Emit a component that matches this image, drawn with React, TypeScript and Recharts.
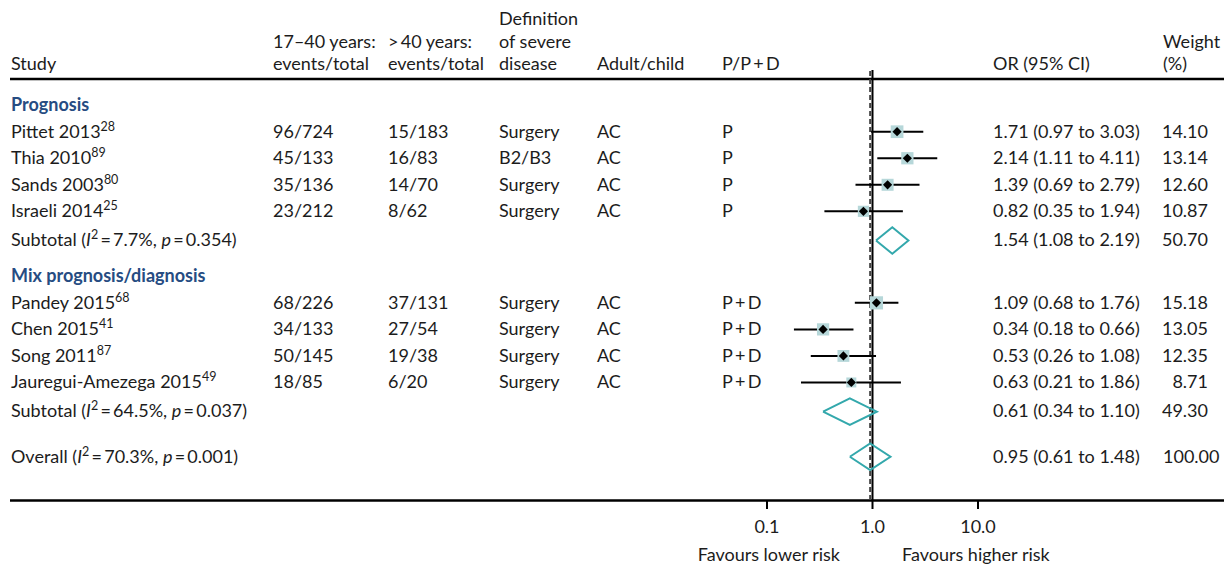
import React from "react";
import { ComposedChart, Scatter, XAxis, YAxis, ErrorBar, ReferenceLine, Customized } from "recharts";

// study-level data
const groupNames = ["Prognosis", "Mix prognosis/diagnosis"];
const studyGroup = [0, 0, 0, 0, 1, 1, 1, 1];
const studyNames = ["Pittet 2013", "Thia 2010", "Sands 2003", "Israeli 2014", "Pandey 2015", "Chen 2015", "Song 2011", "Jauregui-Amezega 2015"];
const studyRefs = ["28", "89", "80", "25", "68", "41", "87", "49"];
const youngEvents = ["96/724", "45/133", "35/136", "23/212", "68/226", "34/133", "50/145", "18/85"];
const olderEvents = ["15/183", "16/83", "14/70", "8/62", "37/131", "27/54", "19/38", "6/20"];
const severeDef = ["Surgery", "B2/B3", "Surgery", "Surgery", "Surgery", "Surgery", "Surgery", "Surgery"];
const population = ["AC", "AC", "AC", "AC", "AC", "AC", "AC", "AC"];
const studyType = ["P", "P", "P", "P", "P\u2009+\u2009D", "P\u2009+\u2009D", "P\u2009+\u2009D", "P\u2009+\u2009D"];
const orEst = [1.71, 2.14, 1.39, 0.82, 1.09, 0.34, 0.53, 0.63];
const orLow = [0.97, 1.11, 0.69, 0.35, 0.68, 0.18, 0.26, 0.21];
const orHigh = [3.03, 4.11, 2.79, 1.94, 1.76, 0.66, 1.08, 1.86];
const weights = [14.1, 13.14, 12.6, 10.87, 15.18, 13.05, 12.35, 8.71];

// pooled estimates
const subI2 = ["7.7%", "64.5%"];
const subP = ["0.354", "0.037"];
const subOr = [1.54, 0.61];
const subLow = [1.08, 0.34];
const subHigh = [2.19, 1.1];
const subWeight = [50.7, 49.3];

const overallI2 = "70.3%";
const overallP = "0.001";
const overallOr = 0.95;
const overallLow = 0.61;
const overallHigh = 1.48;
const overallWeight = 100;

const xTicks = [0.1, 1, 10];

const FONT = "Lato, 'Noto Sans', sans-serif";
const FS = 18;
const INK = "#1c1c1c";
const BLUE = "#264c82";
const TEAL = "#33a8ac";
const BOX = "#b6d7d9";

// column x positions
const COL = { study: 11, young: 273, old: 388, def: 499, pop: 597, type: 722, or: 993, wEnd: 1208, wStart: 1163 };

const fmtCi = (o: number, l: number, h: number) => `${o.toFixed(2)} (${l.toFixed(2)} to ${h.toFixed(2)})`;

// build rows with vertical layout positions
type Row = any;
const rows: Row[] = [];
const studyRows: Row[] = [];
const diamonds: Row[][] = [];
let pos = -1;
let prev = "";
function step(kind: string) {
  if (prev === "") return;
  if (kind === "study") pos += 1;
  else if (kind === "subtotal") pos += 1.1;
  else if (kind === "group") pos += 1.35;
  else if (kind === "overall") pos += 1.7;
}
function diamondPts(o: number, l: number, h: number, y: number) {
  return [
    { x: l, y },
    { x: o, y: y - 0.5 },
    { x: h, y },
    { x: o, y: y + 0.5 },
    { x: l, y },
  ];
}
groupNames.forEach((g, gi) => {
  step("group");
  rows.push({ kind: "group", x: 1, y: pos, label: g });
  prev = "group";
  studyNames.forEach((name, i) => {
    if (studyGroup[i] !== gi) return;
    step("study");
    const r = {
      kind: "study", x: orEst[i], y: pos, label: name, sup: studyRefs[i],
      young: youngEvents[i], old: olderEvents[i], def: severeDef[i], pop: population[i], type: studyType[i],
      ci: fmtCi(orEst[i], orLow[i], orHigh[i]), w: weights[i], err: [orEst[i] - orLow[i], orHigh[i] - orEst[i]],
    };
    rows.push(r);
    studyRows.push(r);
    prev = "study";
  });
  step("subtotal");
  rows.push({ kind: "subtotal", x: 1, y: pos, label: "Subtotal", i2: subI2[gi], p: subP[gi], ci: fmtCi(subOr[gi], subLow[gi], subHigh[gi]), w: subWeight[gi] });
  diamonds.push(diamondPts(subOr[gi], subLow[gi], subHigh[gi], pos));
  prev = "subtotal";
});
step("overall");
rows.push({ kind: "overall", x: 1, y: pos, label: "Overall", i2: overallI2, p: overallP, ci: fmtCi(overallOr, overallLow, overallHigh), w: overallWeight });
diamonds.push(diamondPts(overallOr, overallLow, overallHigh, pos));

const txt = { fontFamily: FONT, fontSize: FS, fill: INK };

function RowText(props: any) {
  const { cy, payload } = props;
  const y = cy + 5.8;
  if (payload.kind === "group") {
    return <text x={COL.study} y={y} style={{ ...txt, fill: BLUE, fontWeight: 700 }}>{payload.label}</text>;
  }
  if (payload.kind === "study") {
    return (
      <g style={txt}>
        <text x={COL.study} y={y}>
          {payload.label}
          <tspan fontSize={12.5} dy={-7}>{payload.sup}</tspan>
        </text>
        <text x={COL.young} y={y}>{payload.young}</text>
        <text x={COL.old} y={y}>{payload.old}</text>
        <text x={COL.def} y={y}>{payload.def}</text>
        <text x={COL.pop} y={y}>{payload.pop}</text>
        <text x={COL.type} y={y}>{payload.type}</text>
        <text x={COL.or} y={y}>{payload.ci}</text>
        <text x={COL.wEnd} y={y} textAnchor="end">{payload.w.toFixed(2)}</text>
      </g>
    );
  }
  const isOverall = payload.kind === "overall";
  return (
    <g style={txt}>
      <text x={COL.study} y={y}>
        {payload.label + " ("}
        <tspan fontStyle="italic">I</tspan>
        <tspan fontSize={12.5} dy={-7}>2</tspan>
        <tspan dy={7}>{"\u2009=\u2009" + payload.i2 + ", "}</tspan>
        <tspan fontStyle="italic">p</tspan>
        <tspan>{"\u2009=\u2009" + payload.p + ")"}</tspan>
      </text>
      <text x={COL.or} y={y}>{payload.ci}</text>
      <text x={isOverall ? COL.wStart : COL.wEnd} y={y} textAnchor={isOverall ? "start" : "end"}>{payload.w.toFixed(2)}</text>
    </g>
  );
}

function StudyMark(props: any) {
  const { cx, cy, payload } = props;
  const side = 3.38 * Math.sqrt(payload.w);
  const d = 4.6;
  return (
    <g>
      <rect x={cx - side / 2} y={cy - side / 2} width={side} height={side} fill={BOX} />
      <path d={`M${cx - d},${cy}L${cx},${cy - d}L${cx + d},${cy}L${cx},${cy + d}Z`} fill="#000" />
    </g>
  );
}

function Frame() {
  return (
    <g style={txt}>
      <text x={COL.study} y={70}>Study</text>
      <text x={COL.young} y={47.7}>17–40 years:</text>
      <text x={COL.young} y={70}>events/total</text>
      <text x={COL.old} y={47.7}>{">\u200940 years:"}</text>
      <text x={COL.old} y={70}>events/total</text>
      <text x={COL.def} y={25}>Definition</text>
      <text x={COL.def} y={47.7}>of severe</text>
      <text x={COL.def} y={70}>disease</text>
      <text x={COL.pop} y={70}>Adult/child</text>
      <text x={COL.type} y={70}>{"P/P\u2009+\u2009D"}</text>
      <text x={COL.or} y={70}>OR (95% CI)</text>
      <text x={COL.wStart} y={47.7}>Weight</text>
      <text x={COL.wStart} y={70}>(%)</text>
      <line x1={10} x2={1224} y1={79} y2={79} stroke="#000" strokeWidth={2.5} />
      <line x1={10} x2={1224} y1={500.5} y2={500.5} stroke="#000" strokeWidth={2.5} />
      <text x={840} y={561} textAnchor="end">Favours lower risk</text>
      <text x={902} y={561}>Favours higher risk</text>
    </g>
  );
}

export default function App() {
  return (
    <div style={{ position: "absolute", left: 0, top: 0, width: 1232, height: 564, background: "#fff" }}>
      <ComposedChart width={1232} height={564} margin={{ top: 70, right: 254, bottom: 0, left: 767 }}>
        <XAxis
          dataKey="x"
          type="number"
          scale="log"
          domain={[0.1, 10]}
          ticks={xTicks}
          tickFormatter={(v: number) => v.toFixed(1)}
          axisLine={false}
          tickSize={9}
          tickMargin={11}
          tickLine={{ stroke: "#000", strokeWidth: 2 }}
          tick={{ fontSize: FS, fill: INK, fontFamily: FONT }}
          height={64}
          interval={0}
        />
        <YAxis dataKey="y" type="number" domain={[-2.326, 13.88]} reversed hide />
        <Customized component={Frame} />
        <ReferenceLine x={overallOr} stroke="#444" strokeWidth={2} strokeDasharray="5 3" />
        <ReferenceLine x={1} stroke="#000" strokeWidth={2} />
        <Scatter data={rows} shape={RowText} isAnimationActive={false} />
        <Scatter data={studyRows} shape={StudyMark} isAnimationActive={false}>
          <ErrorBar dataKey="err" direction="x" width={0} stroke="#000" strokeWidth={2} />
        </Scatter>
        {diamonds.map((pts, i) => (
          <Scatter
            key={i}
            data={pts}
            fill={TEAL}
            line={{ stroke: TEAL, strokeWidth: 2 }}
            shape={() => <g />}
            isAnimationActive={false}
          />
        ))}
      </ComposedChart>
    </div>
  );
}
